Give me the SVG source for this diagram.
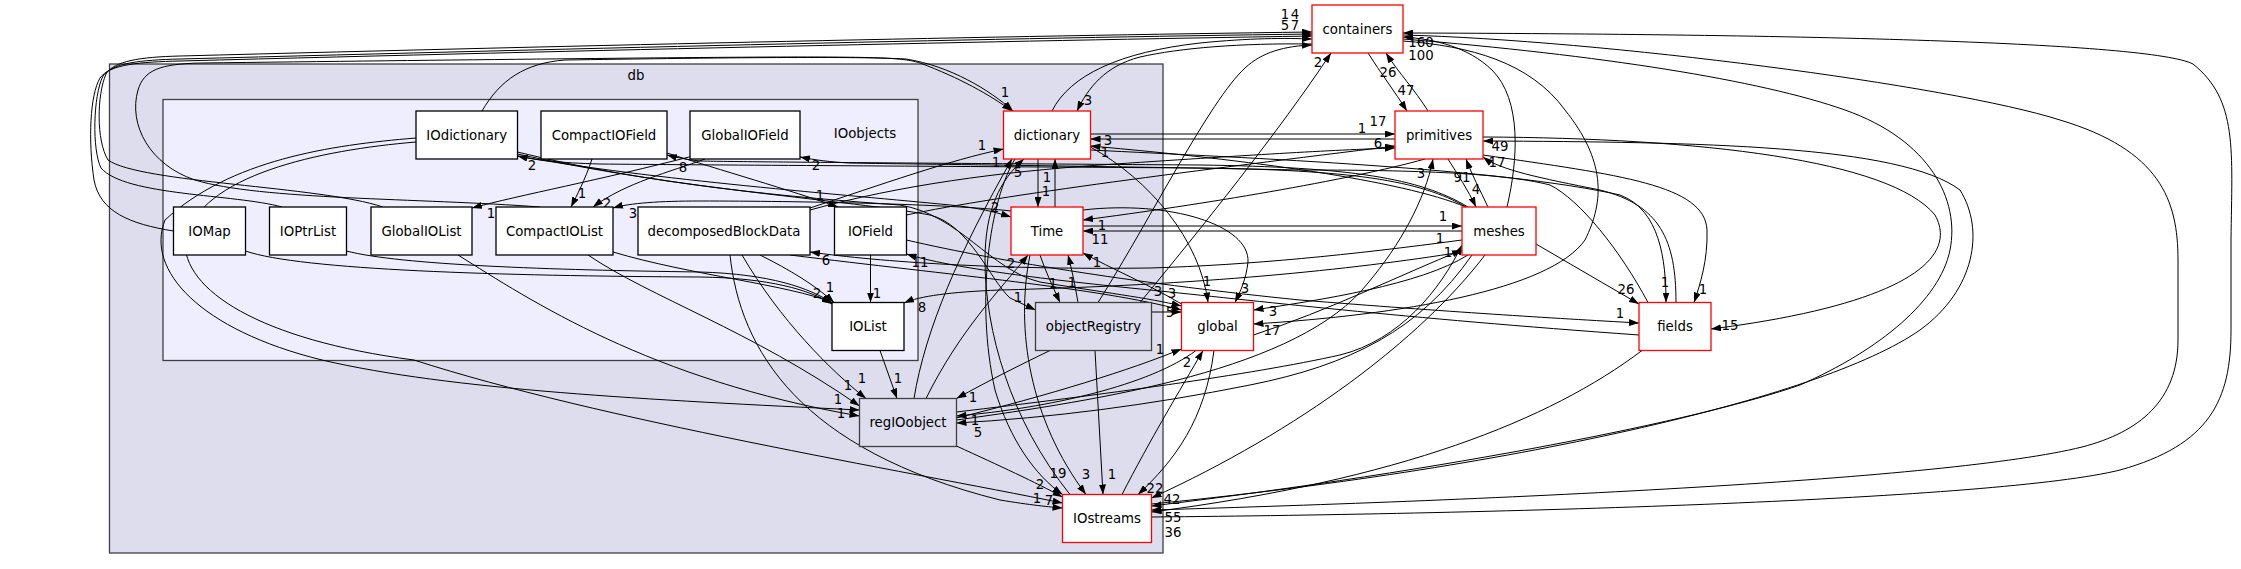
<svg xmlns="http://www.w3.org/2000/svg" width="2241" height="569" viewBox="0 0 2241 569">
<style>
text{font-family:"DejaVu Sans","Liberation Sans",sans-serif;font-size:13.3px;fill:#000;text-anchor:middle}
.n{fill:#fff;stroke:#000;stroke-width:1.3}
.r{fill:#fff;stroke:#ff0000;stroke-width:1.3}
.g{fill:#ddddee;stroke:#404040;stroke-width:1.3}
.e path{fill:none;stroke:#000;stroke-width:1}
</style>
<defs>
<marker id="a" viewBox="0 0 10 7" refX="10" refY="3.5" markerWidth="10" markerHeight="7" markerUnits="userSpaceOnUse" orient="auto"><path d="M0,0L10,3.5L0,7z" fill="#000"/></marker>
</defs>
<rect width="2241" height="569" fill="#fff"/>
<g id="cluster-db"><rect x="109.5" y="64" width="1053.5" height="489" fill="#ddddee" stroke="#404040" stroke-width="1.3"/><text x="636" y="80">db</text></g>
<g id="cluster-IOobjects"><rect x="163" y="99.5" width="755" height="261" fill="#eeeeff" stroke="#404040" stroke-width="1.3"/><text x="865" y="138">IOobjects</text></g>

<g class="e" id="edges" marker-end="url(#a)">
<path d="M173.5,231 C130,224 100,212 94,180 C88,140 90,95 100,78 C110,64 140,62 180,61 C600,50 1000,41 1312,36"/>
<path d="M282,207 C235,194 125,196 101,168 C92,150 93,96 103,76 C112,63 140,60 180,59 C600,48 1000,38 1312,34"/>
<path d="M383,207 C320,186 140,183 108,160 C96,140 97,95 106,74 C114,61 140,57 180,56 C600,45 1000,36 1312,32"/>
<path d="M540,207 C420,198 260,200 195,180 C150,165 128,125 138,90 C144,70 160,64 200,63 C450,60 700,57 800,57 C880,57 905,58 920,63 C960,78 990,95 1012,111"/>
<path d="M482,111 C500,80 525,63 565,60 C700,58 850,56 906,59 C950,66 990,90 1013,111"/>
<path d="M1052,111 C1070,75 1120,52 1200,43 C1250,38 1285,38 1312,39"/>
<path d="M1312,44 C1240,43 1180,48 1140,57 C1105,66 1088,88 1077,111"/>
<path d="M1098,302.5 C1150,220 1210,100 1245,68 C1262,52 1285,46 1312,45"/>
<path d="M1140,302.5 C1200,230 1280,130 1331,53"/>
<path d="M1428,111 C1415,90 1398,72 1386,53"/>
<path d="M1368,53 C1380,72 1395,92 1407,111"/>
<path d="M1507,207 C1518,160 1522,100 1492,70 C1468,47 1435,39 1403,37"/>
<path d="M1403,41 C1470,46 1530,62 1565,110 C1605,160 1605,200 1585,240 C1550,290 1400,315 1253.5,324"/>
<path d="M1151.5,517 C1500,514 2000,500 2120,470 C2210,445 2231,400 2231,330 L2231,240 C2232,150 2238,100 2193,64 C2150,42 1800,34 1403,33"/>
<path d="M1403,35 C1600,40 1950,85 2060,120 C2160,150 2178,200 2178,260 L2178,340 C2178,400 2140,432 2082,447 C1950,480 1500,500 1151.5,510"/>
<path d="M1403,39 C1600,55 1760,80 1845,110 C1930,140 1960,200 1950,250 C1940,300 1880,350 1800,385 C1700,420 1450,470 1151.5,506"/>
<path d="M1090.5,134 L1395,134"/>
<path d="M1395,139 L1090.5,139"/>
<path d="M906.5,215 C1000,195 1200,170 1395,146"/>
<path d="M810,210 C900,185 1000,172 1100,165 C1250,155 1330,150 1395,148"/>
<path d="M1488,207 C1480,190 1472,175 1466,159"/>
<path d="M1448,159 C1458,175 1468,190 1476,207"/>
<path d="M1676,302.5 C1676,240 1660,205 1600,190 C1540,178 1500,170 1483,157"/>
<path d="M956.5,420 C1100,400 1300,370 1368,283 C1400,245 1425,200 1433,159"/>
<path d="M1483,137 C1700,138 1890,160 1935,215 C1960,260 1900,305 1711,329"/>
<path d="M1151.5,504 C1500,470 1820,400 1920,330 C1975,290 1985,230 1960,190 C1900,145 1700,142 1483,141"/>
<path d="M1536,244 L1639,304"/>
<path d="M1083,226 L1462,226"/>
<path d="M1462,231 L1083,231"/>
<path d="M1253.5,335 C1330,310 1400,275 1462,250"/>
<path d="M956.5,412 C1100,395 1250,375 1340,355 C1400,340 1440,290 1462,245"/>
<path d="M1468,255 C1420,285 1320,300 1253.5,310"/>
<path d="M1472,255 C1420,330 1350,365 1250,385 C1150,405 1050,418 956.5,423"/>
<path d="M1485,255 C1420,340 1300,430 1151.5,498"/>
<path d="M1466,207 C1420,180 1350,170 1200,168 C900,166 700,165 600,164 C560,163 535,160 517.5,156"/>
<path d="M1468,207 C1420,178 1350,167 1200,165 C900,163 750,162 700,161 C690,160 678,158 667,155"/>
<path d="M1648,302.5 C1620,250 1580,200 1550,185 C1500,172 1400,170 1300,170 C1100,166 900,164 850,163 C830,162 815,160 800,157"/>
<path d="M1639,335 C1400,318 1250,300 1150,290 C1050,280 950,268 906.5,254"/>
<path d="M1462,240 C1350,255 1250,265 1150,268 C1000,270 880,262 810,252"/>
<path d="M1462,252 C1350,270 1200,285 1000,290 C950,292 920,296 904,303"/>
<path d="M1642,350.5 C1550,420 1400,480 1151.5,512"/>
<path d="M1090.5,150 C1250,158 1500,168 1620,195 C1660,210 1666,260 1666,302.5"/>
<path d="M1483,155 C1620,175 1705,185 1707,230 C1708,260 1700,285 1694,302.5"/>
<path d="M906.5,240 C1000,262 1150,285 1300,300 C1450,312 1550,318 1639,323"/>
<path d="M956.5,418 C1050,395 1130,370 1181.5,349"/>
<path d="M1122,494.5 C1150,440 1180,390 1203,350.5"/>
<path d="M1214,350.5 C1205,420 1175,460 1138,494.5"/>
<path d="M1196,350.5 C1150,385 1050,408 956.5,416"/>
<path d="M1090.5,147 C1150,180 1200,240 1208,302.5"/>
<path d="M1083,210 C1170,200 1250,225 1248,262 C1246,280 1240,292 1235,302.5"/>
<path d="M1181.5,304 C1150,285 1110,268 1083,253"/>
<path d="M1151.5,312 L1181.5,312"/>
<path d="M517.5,152 C650,185 800,198 900,205 C960,215 990,270 1040,282 C1100,292 1150,298 1181.5,306"/>
<path d="M790,255 C950,275 1100,288 1181.5,310"/>
<path d="M1038,159 L1038,207"/>
<path d="M1055,207 L1055,159"/>
<path d="M517.5,156 C650,180 850,195 950,205 C980,208 995,212 1011,217"/>
<path d="M1011,211 C950,204 800,201 700,201 C660,201 630,203 613,208"/>
<path d="M1040,255 C1045,270 1052,285 1060,302.5"/>
<path d="M1078,302.5 C1075,285 1072,270 1068,255"/>
<path d="M926,398.5 C960,330 1000,290 1028,255"/>
<path d="M914,398.5 C925,330 960,250 1012,159"/>
<path d="M1070,494.5 C1010,420 985,330 985,260 C985,210 1000,180 1024,159"/>
<path d="M1015,159 C990,200 975,300 995,390 C1010,440 1035,475 1062.5,494.5"/>
<path d="M1030,255 C1015,330 1030,420 1086,494.5"/>
<path d="M1095,350.5 L1103,494.5"/>
<path d="M956.5,446 C1000,466 1035,482 1062.5,497"/>
<path d="M1050,350.5 C1020,365 990,380 956.5,398.5"/>
<path d="M517.5,154 C680,190 850,200 930,215 C970,225 990,280 1010,298 L1035.5,310"/>
<path d="M416,138 C330,145 230,160 165,220 C145,270 200,330 322,360 C450,390 650,400 859.5,410"/>
<path d="M416,142 C320,150 200,175 185,240 C182,290 260,340 414,360 C600,420 900,470 1062.5,503"/>
<path d="M592,159 C585,180 577,195 571,207"/>
<path d="M693,156 C600,180 520,195 472,208"/>
<path d="M705,159 C670,172 625,183 593,207"/>
<path d="M667,153 C720,170 790,190 838,207"/>
<path d="M870.5,255 L870.5,302.5"/>
<path d="M613,252 C690,275 790,285 832,302.5"/>
<path d="M760,255 C790,270 815,285 834,302.5"/>
<path d="M245.5,251 C300,270 500,276 700,277 C770,278 810,290 832,304"/>
<path d="M346.5,251 C400,265 550,270 700,272 C770,274 810,288 832,303"/>
<path d="M880,350.5 L897,398.5"/>
<path d="M458,255 C530,300 650,380 859.5,416"/>
<path d="M588,255 C650,297 750,330 859.5,406"/>
<path d="M742,255 C780,320 830,370 866,398.5"/>
<path d="M730,255 C740,350 800,450 1000,500 C1030,505 1050,507 1062.5,508"/>
<path d="M810,208 C880,185 950,160 1003.5,149"/>
<path d="M1466,207 C1400,180 1250,160 1090.5,146"/>
<path d="M1425,159 C1350,180 1200,205 1083,220"/>
</g>
<g id="edge-labels">
<text x="1285" y="19">1</text><text x="1295" y="19">4</text><text x="1285" y="30">5</text><text x="1295" y="30">7</text>
<text x="1088" y="105">3</text><text x="1318" y="67">2</text><text x="1388" y="77">26</text><text x="1406" y="95">47</text>
<text x="1421" y="60">100</text><text x="1421" y="47">160</text><text x="1272" y="335">17</text>
<text x="1173" y="537">36</text><text x="1173" y="522">55</text>
<text x="1378" y="126">17</text><text x="1108" y="145">3</text><text x="1362" y="133">1</text><text x="1378" y="148">6</text>
<text x="1462" y="182">91</text><text x="1476" y="194">4</text><text x="1497" y="167">17</text><text x="1421" y="178">3</text>
<text x="1730" y="330">15</text><text x="1500" y="151">49</text><text x="1626" y="294">26</text>
<text x="1443" y="221">1</text><text x="1100" y="244">11</text><text x="1448" y="257">1</text><text x="1440" y="243">1</text>
<text x="1273" y="316">3</text><text x="978" y="437">5</text><text x="1172" y="504">42</text>
<text x="532" y="170">2</text><text x="683" y="172">8</text><text x="816" y="170">2</text><text x="920" y="267">11</text>
<text x="826" y="265">6</text><text x="922" y="312">8</text>
<text x="1665" y="287">1</text><text x="1703" y="294">1</text><text x="1620" y="318">1</text>
<text x="1160" y="354">1</text><text x="1187" y="367">2</text><text x="1155" y="493">22</text><text x="975" y="425">1</text>
<text x="1207" y="286">1</text><text x="1245" y="293">3</text><text x="1097" y="267">1</text>
<text x="1172" y="298">3</text><text x="1158" y="296">3</text><text x="1170" y="317">5</text>
<text x="1047" y="182">1</text><text x="1046" y="196">1</text><text x="995" y="212">2</text><text x="633" y="218">3</text>
<text x="1053" y="288">1</text><text x="1072" y="287">1</text><text x="1011" y="268">2</text><text x="996" y="167">1</text><text x="1018" y="177">5</text>
<text x="1040" y="489">2</text><text x="1058" y="478">19</text><text x="1086" y="479">3</text><text x="1112" y="479">1</text>
<text x="973" y="402">1</text><text x="1018" y="302">1</text><text x="1005" y="97">1</text>
<text x="838" y="404">1</text><text x="841" y="418">1</text><text x="848" y="390">1</text><text x="862" y="383">1</text>
<text x="1037" y="503">1</text><text x="1049" y="505">7</text>
<text x="582" y="198">1</text><text x="491" y="218">1</text><text x="607" y="208">2</text><text x="820" y="200">1</text>
<text x="877" y="298">1</text><text x="817" y="298">2</text><text x="830" y="292">1</text>
<text x="898" y="383">1</text><text x="982" y="150">1</text><text x="1105" y="157">1</text><text x="1102" y="230">1</text>
</g>

<g id="node-containers"><rect class="r" x="1312" y="5" width="91" height="48"/><text x="1357.5" y="33.5">containers</text></g>
<g id="node-primitives"><rect class="r" x="1395" y="111" width="88" height="48"/><text x="1439" y="139.5">primitives</text></g>
<g id="node-meshes"><rect class="r" x="1462" y="207" width="74" height="48"/><text x="1499" y="235.5">meshes</text></g>
<g id="node-fields"><rect class="r" x="1639" y="302.5" width="72" height="48"/><text x="1675" y="331">fields</text></g>
<g id="node-global"><rect class="r" x="1181.5" y="302.5" width="72" height="48"/><text x="1217.5" y="331">global</text></g>
<g id="node-IOstreams"><rect class="r" x="1062.5" y="494.5" width="89" height="48"/><text x="1107" y="523">IOstreams</text></g>
<g id="node-dictionary"><rect class="r" x="1003.5" y="111" width="87" height="48"/><text x="1047" y="139.5">dictionary</text></g>
<g id="node-Time"><rect class="r" x="1011" y="207" width="72" height="48"/><text x="1047" y="235.5">Time</text></g>
<g id="node-objectRegistry"><rect class="g" x="1035.5" y="302.5" width="116" height="48"/><text x="1093.5" y="331">objectRegistry</text></g>
<g id="node-regIOobject"><rect class="g" x="859.5" y="398.5" width="97" height="48"/><text x="908" y="427">regIOobject</text></g>
<g id="node-IOdictionary"><rect class="n" x="416" y="111" width="101.5" height="48"/><text x="466.75" y="139.5">IOdictionary</text></g>
<g id="node-CompactIOField"><rect class="n" x="541" y="111" width="126" height="48"/><text x="604" y="139.5">CompactIOField</text></g>
<g id="node-GlobalIOField"><rect class="n" x="690" y="111" width="110" height="48"/><text x="745" y="139.5">GlobalIOField</text></g>
<g id="node-IOMap"><rect class="n" x="173.5" y="207" width="72" height="48"/><text x="209.5" y="235.5">IOMap</text></g>
<g id="node-IOPtrList"><rect class="n" x="269.5" y="207" width="77" height="48"/><text x="308" y="235.5">IOPtrList</text></g>
<g id="node-GlobalIOList"><rect class="n" x="371" y="207" width="101" height="48"/><text x="421.5" y="235.5">GlobalIOList</text></g>
<g id="node-CompactIOList"><rect class="n" x="496" y="207" width="117" height="48"/><text x="554.5" y="235.5">CompactIOList</text></g>
<g id="node-decomposedBlockData"><rect class="n" x="638" y="207" width="172" height="48"/><text x="724" y="235.5">decomposedBlockData</text></g>
<g id="node-IOField"><rect class="n" x="834.5" y="207" width="72" height="48"/><text x="870.5" y="235.5">IOField</text></g>
<g id="node-IOList"><rect class="n" x="832" y="302.5" width="72" height="48"/><text x="868" y="331">IOList</text></g>
</svg>
